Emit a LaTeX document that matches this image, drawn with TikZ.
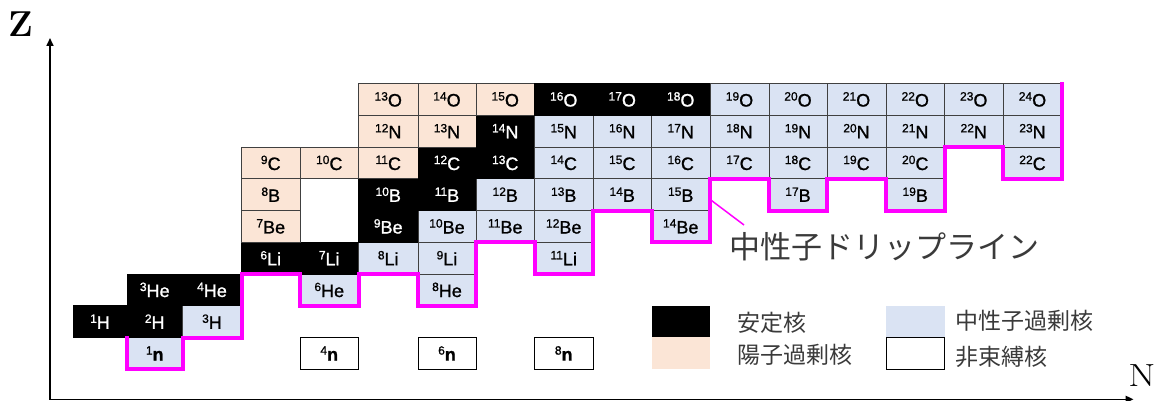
\documentclass[tikz,border=0pt]{standalone}
\usepackage{fontspec}
\setsansfont{Liberation Sans}
\newfontfamily\cellfont[FakeBold=1.1]{Liberation Sans}
\newfontfamily\jpfont{Noto Sans CJK JP}
\usetikzlibrary{arrows.meta}
\definecolor{pinkc}{HTML}{FBE5D6}
\definecolor{bluec}{HTML}{DAE3F3}
\definecolor{gridc}{HTML}{404040}
\definecolor{dripc}{HTML}{FF00FF}
\definecolor{txtgray}{HTML}{3A3A3A}
\def\colxs{{73,127,182.5,241.5,300,358.5,418,476,534.5,593,651.5,710,769,827,886,944.5,1003,1062}}
\newcommand\iso[2]{\raisebox{6pt}{\fontsize{12}{12}\selectfont #1}#2}
\newcommand\nuc[5]{%
  \pgfmathsetmacro\xl{\colxs[#1]}%
  \pgfmathtruncatemacro\np{#1+1}%
  \pgfmathsetmacro\xr{\colxs[\np]}%
  \pgfmathsetmacro\xc{(\xl+\xr)/2}%
  \pgfmathsetmacro\cw{\xr-\xl}%
  \pgfmathsetmacro\yc{369.3-31.75*#2-15.875}%
  \node[#3, minimum width=\cw pt] (c#1-#2) at (\xc,\yc) {\iso{#4}{#5}};}
\tikzset{
  cell/.style={draw=gridc, line width=0.75pt, inner sep=0pt, minimum height=31.75pt,
    font=\cellfont\fontsize{18}{18}\selectfont, text=black},
  st/.style={cell, fill=black, draw=black, text=white},
  pr/.style={cell, fill=pinkc},
  nr/.style={cell, fill=bluec},
  ub/.style={cell, fill=white, draw=black},
  legbox/.style={inner sep=0pt, minimum height=31.75pt, minimum width=58.5pt},
  legtext/.style={inner sep=0pt, anchor=west, text=txtgray, font=\jpfont\fontsize{23}{23}\selectfont},
  drip/.style={draw=dripc, line width=4pt, line join=miter, line cap=rect},
  axis/.style={line width=1.6pt, {Triangle[length=8pt,width=7pt]}-{Triangle[length=8pt,width=7pt]}}
}
\begin{document}
\begin{tikzpicture}[x=1pt,y=-1pt]
\useasboundingbox (0,0) rectangle (1161,401);
% grid coordinates
\foreach \i/\x in {0/73,1/127,2/182.5,3/241.5,4/300,5/358.5,6/418,7/476,8/534.5,9/593,10/651.5,11/710,12/769,13/827,14/886,15/944.5,16/1003,17/1062}
  \coordinate (X\i) at (\x,0);
\foreach \j in {0,...,9}
  \coordinate (Y\j) at (0,369.3-31.75*\j);
% axes
\coordinate (ztip) at (50,38);
\coordinate (orig) at (50,399.3);
\coordinate (ntip) at (1133.5,399.3);
\draw[axis] (ztip) -- (orig) -- (ntip);
\node[font=\bfseries\fontsize{36}{36}\selectfont, inner sep=0pt] (zlab) at (20.5,24.5) {Z};
\node[font=\fontsize{32}{32}\selectfont, inner sep=0pt] (nlab) at (1142,375.5) {\scalebox{1.22}[1]{N}};
% Z = 0
\nuc{1}{0}{nr}{1}{\textbf{n}}
\nuc{4}{0}{ub}{4}{\textbf{n}}
\nuc{6}{0}{ub}{6}{\textbf{n}}
\nuc{8}{0}{ub}{8}{\textbf{n}}
% Z = 1
\nuc{0}{1}{st}{1}{H}
\nuc{1}{1}{st}{2}{H}
\nuc{2}{1}{nr}{3}{H}
% Z = 2
\nuc{1}{2}{st}{3}{He}
\nuc{2}{2}{st}{4}{He}
\nuc{4}{2}{nr}{6}{He}
\nuc{6}{2}{nr}{8}{He}
% Z = 3
\nuc{3}{3}{st}{6}{Li}
\nuc{4}{3}{st}{7}{Li}
\nuc{5}{3}{nr}{8}{Li}
\nuc{6}{3}{nr}{9}{Li}
\nuc{8}{3}{nr}{11}{Li}
% Z = 4
\nuc{3}{4}{pr}{7}{Be}
\nuc{5}{4}{st}{9}{Be}
\nuc{6}{4}{nr}{10}{Be}
\nuc{7}{4}{nr}{11}{Be}
\nuc{8}{4}{nr}{12}{Be}
\nuc{10}{4}{nr}{14}{Be}
% Z = 5
\nuc{3}{5}{pr}{8}{B}
\nuc{5}{5}{st}{10}{B}
\nuc{6}{5}{st}{11}{B}
\nuc{7}{5}{nr}{12}{B}
\nuc{8}{5}{nr}{13}{B}
\nuc{9}{5}{nr}{14}{B}
\nuc{10}{5}{nr}{15}{B}
\nuc{12}{5}{nr}{17}{B}
\nuc{14}{5}{nr}{19}{B}
% Z = 6
\nuc{3}{6}{pr}{9}{C}
\nuc{4}{6}{pr}{10}{C}
\nuc{5}{6}{pr}{11}{C}
\nuc{6}{6}{st}{12}{C}
\nuc{7}{6}{st}{13}{C}
\foreach \n in {8,...,14}{\pgfmathtruncatemacro\m{\n+6}\nuc{\n}{6}{nr}{\m}{C}}
\nuc{16}{6}{nr}{22}{C}
% Z = 7
\nuc{5}{7}{pr}{12}{N}
\nuc{6}{7}{pr}{13}{N}
\nuc{7}{7}{st}{14}{N}
\foreach \n in {8,...,16}{\pgfmathtruncatemacro\m{\n+7}\nuc{\n}{7}{nr}{\m}{N}}
% Z = 8
\nuc{5}{8}{pr}{13}{O}
\nuc{6}{8}{pr}{14}{O}
\nuc{7}{8}{pr}{15}{O}
\nuc{8}{8}{st}{16}{O}
\nuc{9}{8}{st}{17}{O}
\nuc{10}{8}{st}{18}{O}
\foreach \n in {11,...,16}{\pgfmathtruncatemacro\m{\n+8}\nuc{\n}{8}{nr}{\m}{O}}
% neutron drip line
\draw[drip] (X1|-Y1) -- (X1|-Y0) -- (X2|-Y0) -- (X2|-Y1) -- (X3|-Y1) -- (X3|-Y3)
  -- (X4|-Y3) -- (X4|-Y2) -- (X5|-Y2) -- (X5|-Y3) -- (X6|-Y3) -- (X6|-Y2)
  -- (X7|-Y2) -- (X7|-Y4) -- (X8|-Y4) -- (X8|-Y3) -- (X9|-Y3) -- (X9|-Y5)
  -- (X10|-Y5) -- (X10|-Y4) -- (X11|-Y4) -- (X11|-Y6) -- (X12|-Y6) -- (X12|-Y5)
  -- (X13|-Y5) -- (X13|-Y6) -- (X14|-Y6) -- (X14|-Y5) -- (X15|-Y5) -- (X15|-Y7)
  -- (X16|-Y7) -- (X16|-Y6) -- (X17|-Y6) -- (X17|-Y9);
\coordinate (leadA) at (711.5,200.5);
\coordinate (leadB) at (744,225);
\draw[dripc, line width=1.5pt] (leadA) -- (leadB);
\node[inner sep=0pt, anchor=west, text=txtgray, font=\jpfont\fontsize{31}{31}\selectfont] (driplab) at (729.5,247) {中性子ドリップライン};
% legend
\node[legbox, fill=black] (legst) at (680.75,321.9) {};
\node[legbox, fill=pinkc] (legpr) at (680.75,353.2) {};
\node[legbox, fill=bluec] (legnr) at (915.25,321.9) {};
\node[legbox, fill=white, draw=black, line width=0.9pt] (legub) at (915.25,353.2) {};
\node[legtext] (tst) at (737,322.5) {安定核};
\node[legtext] (tpr) at (737,355) {陽子過剰核};
\node[legtext] (tnr) at (955.5,320.5) {中性子過剰核};
\node[legtext] (tub) at (955.5,357) {非束縛核};
\end{tikzpicture}
\end{document}
